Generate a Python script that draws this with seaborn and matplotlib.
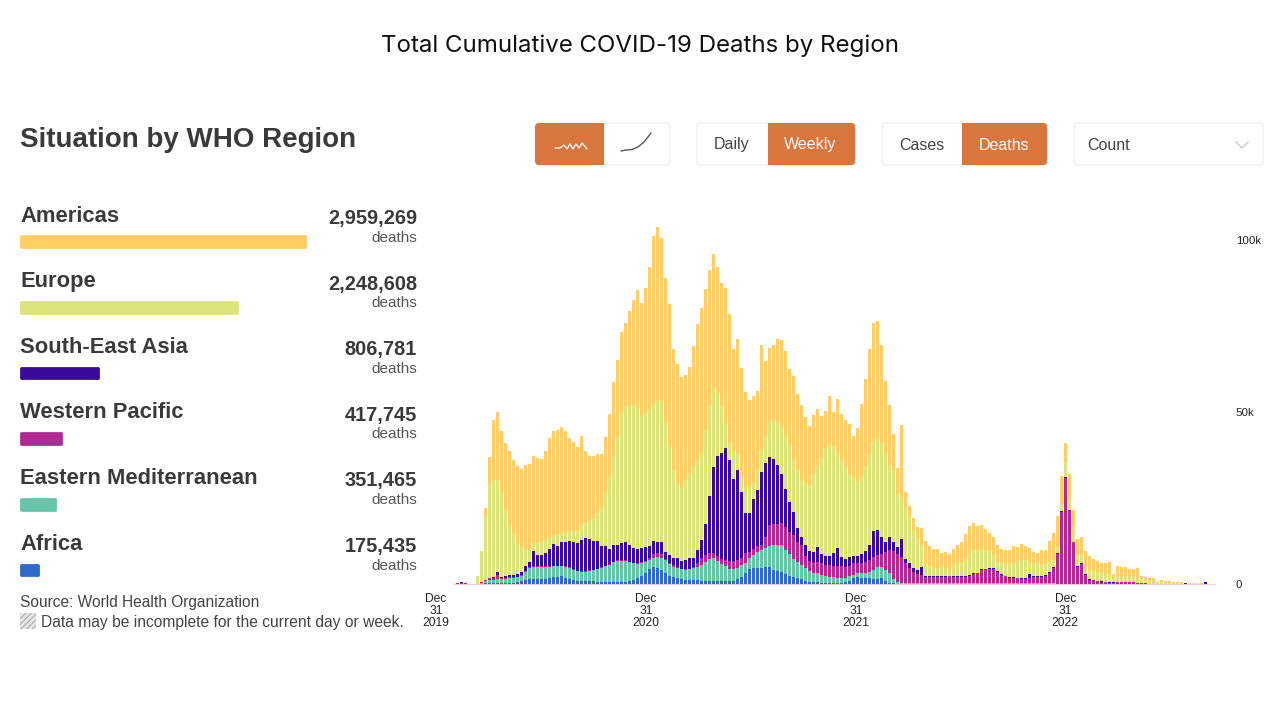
import numpy as np
import pandas as pd
import matplotlib
matplotlib.use('Agg')
import matplotlib.pyplot as plt
from matplotlib.patches import FancyBboxPatch, Rectangle
import seaborn as sns

regions = ['Americas', 'Europe', 'South-East Asia', 'Western Pacific', 'Eastern Mediterranean', 'Africa']
totals = [2959269, 2248608, 806781, 417745, 351465, 175435]
colors = ['#FFCF66', '#DDE57A', '#3A0A9C', '#B02A92', '#66C4A8', '#2E6BC8']

# weekly deaths in thousands
americas = [
    0, 0, 0, 0, 0, 0, 0, 0, 2.4, 8.0,
    17.3, 19.9, 17.5, 19.9, 21.6, 21.6, 22.5, 22.8, 24.7, 25.0,
    25.4, 24.7, 24.0, 25.8, 29.0, 30.3, 30.5, 30.3, 29.4, 27.2,
    25.9, 24.1, 25.9, 21.1, 18.7, 18.1, 17.2, 15.2, 16.4, 18.1,
    21.7, 22.3, 23.6, 24.4, 27.6, 30.7, 34.4, 33.0, 36.4, 41.5,
    48.8, 50.1, 47.5, 42.2, 41.5, 35.1, 34.5, 32.3, 30.3, 30.8,
    34.9, 39.8, 42.2, 40.9, 39.8, 39.1, 36.6, 35.9, 39.3, 37.4,
    29.3, 33.0, 31.6, 27.9, 25.2, 25.2, 23.0, 30.6, 22.0, 21.5,
    21.8, 24.5, 25.0, 24.8, 22.0, 24.5, 22.0, 21.8, 19.2, 17.0,
    17.0, 16.2, 11.9, 11.0, 14.1, 10.1, 15.2, 13.4, 13.4, 14.6,
    12.1, 15.5, 21.0, 25.2, 30.6, 34.7, 34.4, 28.6, 21.1, 17.2,
    10.5, 7.3, 20.9, 4.1, 3.1, 3.4, 3.2, 4.9, 7.1, 5.8,
    5.6, 5.6, 4.2, 4.7, 4.6, 4.9, 5.1, 5.8, 7.0, 7.8,
    7.8, 7.1, 7.0, 6.0, 5.3, 5.1, 4.9, 4.2, 3.9, 4.1,
    4.7, 4.1, 4.4, 4.2, 4.1, 3.2, 2.6, 4.4, 4.1, 6.0,
    7.6, 9.0, 8.1, 5.8, 6.8, 5.1, 4.4, 5.0, 5.1, 4.1,
    3.6, 3.2, 2.8, 3.1, 3.3, 1.0, 2.9, 2.6, 2.4, 2.1,
    2.1, 2.6, .7, .9, .8, 1.1, .2, .8, .4, .5,
    .2, .3, .2, .1, .1, .1, .1, .05, .05,
]
europe = [
    0, 0, 0, 0, 0, 0, 2.1, 9.1, 18.6, 27.2,
    28.4, 26.7, 24.9, 18.9, 14.7, 11.7, 9.0, 7.0, 4.7, 3.7,
    2.4, 3.6, 4.0, 3.9, 3.2, 2.7, 3.1, 2.9, 2.9, 2.9,
    3.1, 3.7, 4.4, 4.4, 5.6, 6.6, 8.2, 11.4, 15.5, 21.1,
    25.7, 31.5, 37.8, 39.5, 40.3, 41.2, 40.9, 38.3, 39.0, 39.6,
    39.8, 41.3, 40.9, 37.3, 31.5, 25.6, 21.8, 21.3, 23.3, 24.5,
    26.5, 25.9, 25.2, 27.4, 25.9, 22.8, 18.2, 13.6, 7.3, 4.9,
    8.5, 4.9, 4.6, 7.1, 7.6, 4.7, 5.8, 6.5, 7.8, 10.2,
    11.3, 12.1, 13.8, 15.3, 16.5, 15.2, 17.0, 16.5, 17.9, 19.2,
    23.0, 24.0, 28.3, 31.2, 32.2, 31.0, 27.9, 28.3, 26.9, 24.0,
    22.8, 21.6, 22.8, 24.9, 26.2, 25.9, 26.2, 27.2, 25.7, 20.9,
    21.1, 15.5, 12.1, 15.3, 13.4, 11.2, 9.2, 6.5, 3.2, 2.9,
    2.4, 2.4, 2.6, 2.4, 1.8, 3.1, 3.9, 4.3, 5.1, 6.4,
    6.8, 6.6, 5.8, 5.4, 4.8, 3.9, 2.7, 3.1, 3.5, 3.7,
    4.2, 4.9, 5.4, 5.2, 3.7, 3.9, 4.2, 3.2, 3.3, 3.2,
    2.3, 1.9, 2.1, 4.1, 3.7, 4.2, 3.7, 2.7, 1.7, 2.6,
    2.6, 2.5, 2.5, 2.3, 2.5, 1.6, 1.8, 1.8, 1.8, 1.8,
    1.7, 1.6, 1.2, .9, .9, .6, .3, .4, .3, .3,
    .2, .2, .2, .1, .1, .1, .1, .05, .05,
]
se_asia = [
    0, 0, .05, .05, 0, 0, 0, 0, 0, .1,
    .2, .8, .4, .5, .6, .7, .8, .9, 1.5, 1.4,
    4.4, 3.2, 3.3, 3.7, 4.9, 6.2, 5.9, 7.1, 7.2, 7.5,
    7.9, 8.1, 8.9, 9.4, 8.9, 8.4, 7.9, 6.2, 5.6, 4.3,
    4.9, 4.5, 4.9, 5.2, 4.9, 4.4, 4.2, 4.0, 3.9, 3.6,
    3.6, 3.4, 3.6, 2.0, 2.2, 2.0, 2.6, 2.2, 2.7, 3.2,
    2.8, 3.7, 5.3, 9.0, 16.8, 25.0, 29.3, 30.7, 32.5, 29.3,
    23.7, 26.2, 19.0, 11.8, 11.3, 14.6, 16.5, 21.1, 21.3, 19.9,
    18.9, 17.2, 14.4, 10.9, 8.7, 6.6, 3.9, 2.4, 3.4, 2.9,
    2.7, 4.2, 2.7, 2.7, 2.7, 3.7, 5.3, 2.7, 2.4, 2.7,
    2.2, 2.1, 2.4, 3.0, 4.4, 7.6, 7.3, 5.1, 2.9, 3.9,
    2.6, 2.1, 5.3, 1.2, 1.6, 1.0, 1.2, 2.2, .1, .2,
    .2, .2, .2, .2, .2, .2, .2, .2, .2, .2,
    .2, .2, .2, .2, .2, .2, .2, .2, .2, .2,
    .2, .2, .2, .2, 1.2, .2, .2, .2, .2, .2,
    .2, .2, .2, .3, .1, .1, .1, .1, .1, .1,
    .1, .1, .1, .1, .1, .05, .05, .05, .05, .05,
    0, 0, 0, 0, 0, 0, 0, 0, 0, 0,
    0, 0, 0, .1, 0, 0, 0, 0, .4,
]
w_pacific = [
    .05, .2, .4, .3, .1, .1, 0, .1, .2, .4,
    .4, 1.3, .2, .2, .3, .2, .2, .2, .2, .2,
    .2, .2, .2, .3, .2, .1, 0, .1, .3, .3,
    .2, .2, .3, .3, .3, .1, .2, .2, .2, .2,
    .2, .2, .2, .2, .2, .1, .3, .4, .4, .5,
    1.2, 1.1, .9, .4, .4, .5, .3, .2, .2, .2,
    .3, 1.3, 1.9, 1.9, 1.7, 1.6, 1.3, 1.5, 1.7, 2.4,
    2.4, 2.3, 2.1, 2.7, 1.9, 1.8, 1.7, 1.5, 3.4, 6.0,
    6.2, 6.2, 6.3, 6.8, 6.5, 6.8, 5.8, 5.8, 3.4, 2.8,
    3.2, 3.4, 3.4, 3.2, 3.4, 3.3, 3.5, 3.5, 3.1, 2.9,
    3.4, 2.9, 3.1, 3.2, 3.4, 3.7, 3.7, 3.8, 5.3, 6.8,
    8.1, 8.1, 7.5, 5.6, 4.2, 3.3, 2.6, 2.4, 1.9, 1.8,
    1.9, 1.9, 1.9, 1.8, 2.0, 1.9, 1.9, 1.8, 1.9, 2.1,
    2.6, 2.7, 3.7, 3.9, 4.1, 4.0, 3.2, 2.5, 2.0, 1.6,
    1.6, 1.4, 1.3, 1.3, 1.4, 1.9, 1.9, 1.9, 2.1, 3.0,
    4.4, 8.8, 21.0, 30.7, 21.4, 12.2, 5.0, 5.9, 2.7, 1.3,
    1.1, .9, .7, .6, .4, .4, .6, .6, .6, .5,
    .5, .4, .3, .3, .1, .1, .1, .1, .1, .1,
    .1, .05, .05, .05, .05, .05, .05, .05, .1,
]
e_med = [
    0, 0, 0, 0, 0, 0, 0, .3, .7, 1.0,
    1.1, 1.2, 1.2, 1.2, 1.2, 1.3, 1.3, 1.5, 2.3, 3.3,
    3.5, 3.5, 3.5, 3.5, 3.4, 3.2, 3.2, 2.8, 3.1, 3.1,
    2.9, 2.7, 2.7, 2.8, 3.0, 3.2, 3.6, 4.1, 4.6, 5.1,
    5.7, 6.1, 6.2, 6.0, 5.4, 4.7, 4.1, 3.7, 3.1, 2.7,
    2.8, 3.1, 3.6, 3.9, 3.5, 3.1, 3.0, 2.9, 2.8, 3.1,
    3.4, 3.6, 4.6, 5.5, 6.2, 6.6, 5.8, 4.9, 4.5, 3.6,
    3.4, 3.3, 3.4, 3.1, 3.2, 3.6, 4.5, 5.2, 5.6, 6.1,
    7.2, 7.4, 7.8, 7.0, 6.4, 5.3, 4.7, 4.1, 3.6, 3.2,
    2.8, 2.6, 2.2, 1.9, 1.7, 1.6, 1.4, 1.2, 1.2, 1.2,
    1.0, 1.2, 1.3, 1.7, 2.0, 2.7, 3.4, 3.2, 3.1, 2.7,
    1.2, .5, .3, .3, .3, .2, .2, .1, .1, .1,
    .1, .1, .1, .1, .1, .1, .1, .1, .1, .2,
    .3, .3, .3, .3, .3, .3, .2, .1, .1, .1,
    .1, .1, .1, .1, .1, .1, .1, .1, .1, .1,
    .1, 0, 0, 0, 0, 0, 0, 0, 0, 0,
    0, 0, 0, 0, 0, 0, 0, 0, 0, 0,
    0, 0, 0, 0, 0, 0, 0, 0, 0, 0,
    0, 0, 0, 0, 0, 0, 0, 0, 0,
]
africa = [
    0, 0, 0, 0, 0, 0, .1, .1, .2, .2,
    .2, .2, .2, .3, .4, .4, .6, .9, 1.3, 1.4,
    1.4, 1.4, 1.4, 1.5, 1.6, 2.0, 2.0, 2.3, 1.7, 1.5,
    1.2, 1.0, .9, .8, .8, .8, .7, .6, .5, .5,
    .6, .6, .6, .7, .9, 1.3, 1.6, 2.3, 3.3, 4.3,
    4.8, 4.7, 4.1, 3.1, 2.3, 1.9, 1.6, 1.4, 1.3, 1.2,
    1.2, 1.2, 1.0, 1.0, 1.0, .9, .9, .9, .8, .8,
    1.0, 1.4, 2.1, 3.1, 4.3, 4.7, 4.7, 4.7, 4.8, 5.0,
    4.1, 3.9, 3.6, 2.9, 2.3, 2.1, 1.8, 1.5, 1.0, .7,
    .5, .5, .4, .4, .4, .4, .4, .4, .6, 1.0,
    1.6, 1.9, 1.8, 1.6, 1.6, 1.4, 1.4, 1.6, 1.0, .4,
    .2, .1, .1, .1, .1, .1, .1, .1, .1, .1,
    .1, .1, .1, .1, .1, .1, .1, .1, .1, .1,
    .1, .1, .1, .1, .1, .1, .1, .1, .1, .1,
    .1, .1, .1, .1, .1, .1, .1, .1, .1, .1,
    .1, 0, 0, 0, 0, 0, 0, 0, 0, 0,
    0, 0, 0, 0, 0, 0, 0, 0, 0, 0,
    0, 0, 0, 0, 0, 0, 0, 0, 0, 0,
    0, 0, 0, 0, 0, 0, 0, 0, 0,
]

tick_weeks = [-4.3, 48.2, 100.7, 153]
tick_labels = ['Dec\n31\n2019', 'Dec\n31\n2020', 'Dec\n31\n2021', 'Dec\n31\n2022']
y_ticks = [0, 50, 100]
y_labels = ['0', '50k', '100k']

W, H = 1280, 720
TEXT = '#3a3a3a'
ORANGE = '#D8763E'
BORDER = '#ececec'


def px(size):
    # font size given in pixels at dpi 100
    return size * 0.72


def axes_box(left, top, right, bottom):
    return [left / W, 1 - bottom / H, (right - left) / W, (bottom - top) / H]


sns.set_theme(style='white')
plt.rcParams['font.family'] = ['Liberation Sans', 'DejaVu Sans']

fig = plt.figure(figsize=(12.8, 7.2), dpi=100, facecolor='white')

# weekly stacked bars
df = pd.DataFrame({'week': np.arange(len(africa))})
for name, values in zip(regions, [americas, europe, se_asia, w_pacific, e_med, africa]):
    df[name] = values
long_df = df.melt(id_vars='week', var_name='region', value_name='deaths')

ax = fig.add_axes(axes_box(430, 210, 1222, 584))
sns.histplot(data=long_df, x='week', weights='deaths', hue='region', hue_order=regions,
             palette=colors, multiple='stack', discrete=True, shrink=0.84,
             linewidth=0, alpha=1, legend=False, ax=ax)
ax.hlines(0, 0, 190.5, color='#f4cdd8', lw=0.8, zorder=0, clip_on=False)
ax.set_xlim(-5.825, 192.2)
ax.set_ylim(0, 108.7)
ax.set_xlabel('')
ax.set_ylabel('')
ax.set_xticks(tick_weeks)
ax.set_xticklabels(tick_labels, fontsize=px(12), color='#222222', linespacing=1.02)
ax.yaxis.tick_right()
ax.set_yticks(y_ticks)
ax.set_yticklabels(y_labels, fontsize=px(11.5), color='#222222')
ax.tick_params(axis='x', length=0, pad=6.5)
ax.tick_params(axis='y', length=0, pad=10)
ax.patch.set_alpha(0)
sns.despine(ax=ax, left=True, bottom=True, right=True, top=True)

# region bars on the left
ax_side = fig.add_axes(axes_box(21, 208.7, 305, 603))
sns.barplot(x=totals, y=regions, hue=regions, palette=colors, legend=False, saturation=1,
            width=0.16, linewidth=2, ax=ax_side)
for bar in ax_side.patches:
    bar.set_edgecolor(bar.get_facecolor())
    bar.set_joinstyle('round')
    bar.set_clip_on(False)
ax_side.set_xlim(0, totals[0])
ax_side.axis('off')

# text and controls are laid out in pixels
ui = fig.add_axes([0, 0, 1, 1], zorder=5)
ui.set_xlim(0, W)
ui.set_ylim(H, 0)
ui.axis('off')
ui.patch.set_alpha(0)

ui.text(640, 46, 'Total Cumulative COVID-19 Deaths by Region', ha='center', va='center',
        fontsize=px(24.1), color='#111111', family=['Inter', 'DejaVu Sans'])
ui.text(20, 140, 'Situation by WHO Region', va='center', fontsize=px(27.7),
        fontweight='bold', color=TEXT)

row_gap = 65.6
for i, (name, total) in enumerate(zip(regions, totals)):
    ui.text(20, 221.5 + row_gap * i, name, va='baseline', fontsize=px(22),
            fontweight='bold', color=TEXT)
    ui.text(417, 224 + row_gap * i, f'{total:,}', ha='right', va='baseline', fontsize=px(20),
            fontweight='bold', color=TEXT)
    ui.text(417, 241.5 + row_gap * i, 'deaths', ha='right', va='baseline', fontsize=px(15.3),
            color='#555555')

ui.text(20, 607, 'Source: World Health Organization', va='baseline', fontsize=px(15.5), color='#444444')
ui.text(41, 627, 'Data may be incomplete for the current day or week.', va='baseline',
        fontsize=px(15.6), color='#444444')
ui.add_patch(Rectangle((20, 613), 16, 16, facecolor='#e8e8e8', edgecolor='#b5b5b5',
                       hatch='//////', lw=0))


def button_group(x0, x1, split=None, active=None):
    ui.add_patch(FancyBboxPatch((x0 + 2, 125), x1 - x0 - 4, 38,
                                boxstyle='round,pad=2,rounding_size=4',
                                facecolor='white', edgecolor=BORDER, lw=0.8))
    if active == 'left':
        ui.add_patch(FancyBboxPatch((x0 + 2, 125), split - x0 - 4, 38,
                                    boxstyle='round,pad=2,rounding_size=4',
                                    facecolor=ORANGE, edgecolor='none'))
        ui.add_patch(Rectangle((split - 6, 123), 6, 42, facecolor=ORANGE, edgecolor='none'))
    elif active == 'right':
        ui.add_patch(FancyBboxPatch((split + 2, 125), x1 - split - 4, 38,
                                    boxstyle='round,pad=2,rounding_size=4',
                                    facecolor=ORANGE, edgecolor='none'))
        ui.add_patch(Rectangle((split, 123), 6, 42, facecolor=ORANGE, edgecolor='none'))


button_group(535, 670, 604, 'left')
button_group(697, 855, 768, 'right')
button_group(882, 1047, 962, 'right')
button_group(1074, 1263)

for x, label, col in [(732, 'Daily', '#444444'), (810.5, 'Weekly', 'white'),
                      (922, 'Cases', '#444444'), (1004, 'Deaths', 'white')]:
    ui.text(x, 149.5, label, ha='center', va='baseline', fontsize=px(16), color=col)
ui.text(1087, 149.5, 'Count', va='baseline', fontsize=px(16), color='#444444')

# small control icons
ui.plot([555, 560, 564, 567, 570, 573, 576, 579, 582, 587],
        [148, 148, 145, 149, 144, 149, 144, 148, 143, 149], color='white', lw=0.9)
ui.plot([621, 626, 632, 638, 644, 648, 651],
        [151, 150, 149.5, 147, 142, 137, 133], color='#555555', lw=1)
ui.plot([1236, 1242, 1248], [142, 148, 142], color='#d0d0d0', lw=1.2)

fig.savefig('out.png', dpi=100)
